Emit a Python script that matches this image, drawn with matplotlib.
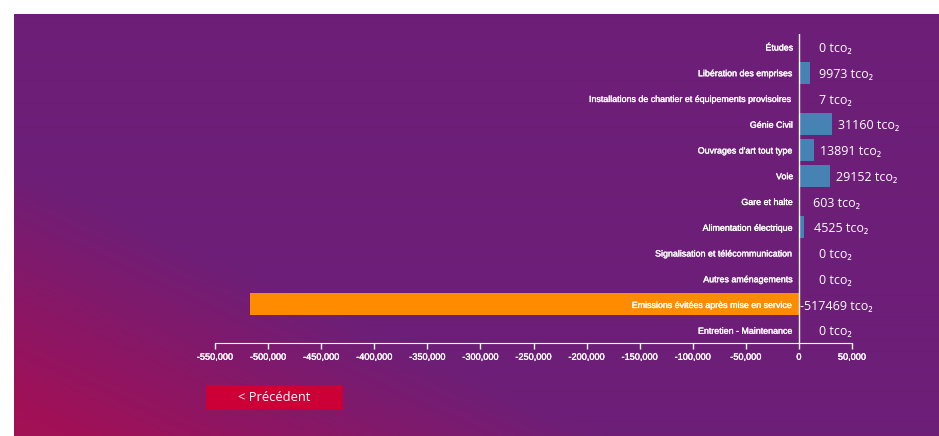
import numpy as np
import matplotlib
matplotlib.use("Agg")
import matplotlib.pyplot as plt
import matplotlib.patheffects as pe
from matplotlib.ticker import FuncFormatter

categories = [
    "Études",
    "Libération des emprises",
    "Installations de chantier et équipements provisoires",
    "Génie Civil",
    "Ouvrages d'art tout type",
    "Voie",
    "Gare et halte",
    "Alimentation électrique",
    "Signalisation et télécommunication",
    "Autres aménagements",
    "Emissions évitées après mise en service",
    "Entretien - Maintenance",
]
values = [0, 9973, 7, 31160, 13891, 29152, 603, 4525, 0, 0, -517469, 0]
ticks = list(range(-550000, 50001, 50000))

W, H = 939, 436
fig = plt.figure(figsize=(W / 100, H / 100), dpi=100)
fig.patch.set_facecolor("white")

# panel background: crimson in the lower-left corner fading into purple
bg = fig.add_axes([14 / W, 0, 925 / W, 422 / H])
pw, ph = 925, 422
xx, yy = np.meshgrid(np.linspace(0, 1, pw), np.linspace(1, 0, ph))
u = (xx + yy) / 2
t = np.clip((u - 0.03) / 0.29, 0, 1)[..., None]
c0 = np.array([162, 16, 86]) / 255
c1 = np.array([109, 31, 120]) / 255
bg.imshow(c0 * (1 - t) + c1 * t, aspect="auto", extent=[0, 1, 0, 1], origin="upper")
bg.set_axis_off()

# "previous" button
btn = fig.add_axes([206 / W, (H - 410) / H, 137 / W, 25 / H])
btn.set_facecolor("#cc0036")
btn.set_xticks([])
btn.set_yticks([])
for s in btn.spines.values():
    s.set_visible(False)
btn.text(0.5, 0.5, "< Précédent", color="white", fontsize=9.3,
         family=["Open Sans", "DejaVu Sans"], ha="center", va="center",
         transform=btn.transAxes)

ax = fig.add_axes([215 / W, (H - 343) / H, 637 / W, 309 / H])
ax.patch.set_alpha(0)

y = np.arange(len(categories))
colors = ["#ff8c00" if v < 0 else "#4682b4" for v in values]
ax.barh(y, values, height=0.86, color=colors)

ax.set_xlim(-550000, 50000)
ax.set_ylim(len(categories) - 0.5, -0.5)
ax.axvline(0, color="white", lw=1)

heavy = [pe.withStroke(linewidth=0.25, foreground="white")]
for i, (name, v) in enumerate(zip(categories, values)):
    ax.annotate(name, xy=(0, i), xytext=(-4, -0.8), textcoords="offset points",
                ha="right", va="center", color="white", fontsize=6.4,
                family=["Liberation Sans", "DejaVu Sans"], path_effects=heavy)
    ax.annotate(f"{v} tco₂", xy=(max(v, 0), i), xytext=(26.6, -1.2),
                textcoords="offset points", ha="center", va="center",
                color="white", fontsize=9, family=["Open Sans", "DejaVu Sans"])

ax.set_xticks(ticks)
ax.xaxis.set_major_formatter(FuncFormatter(lambda v, p: f"{int(v):,}"))
ax.tick_params(axis="x", colors="white", length=4, width=1, pad=3,
               labelsize=6.6)
for lab in ax.get_xticklabels():
    lab.set_family(["Liberation Sans", "DejaVu Sans"])
    lab.set_path_effects(heavy)
ax.set_yticks([])
for side in ["left", "right", "top"]:
    ax.spines[side].set_visible(False)
ax.spines["bottom"].set_color("white")

fig.savefig("out.png", dpi=100, facecolor=fig.get_facecolor())
